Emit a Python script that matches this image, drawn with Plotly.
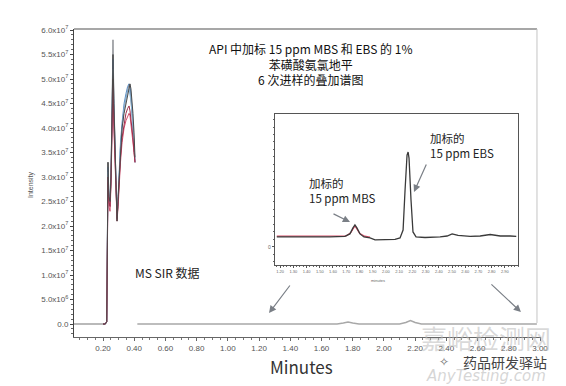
import plotly.graph_objects as go

# ---------------- data ----------------
# main chromatogram, peak region (time in minutes, intensity in units of 10^7)
peak_time = [0.200, 0.215, 0.224, 0.228, 0.232, 0.238, 0.245, 0.251, 0.258, 0.264,
             0.270, 0.277, 0.284, 0.290, 0.297, 0.303, 0.312, 0.322, 0.335, 0.347,
             0.358, 0.367, 0.373, 0.379, 0.386, 0.392, 0.399, 0.405]
inj1 = [0, 0, 0.05, 1.7, 3.3, 2.5, 2.4, 3.0, 4.5, 5.8, 4.6, 3.5, 2.6, 2.1, 2.5, 3.0, 3.6, 4.0,
        4.4, 4.6, 4.8, 4.9, 4.8, 4.6, 4.3, 4.0, 3.6, 3.3]
inj2 = [0, 0, 0.05, 1.6, 3.2, 2.6, 2.5, 3.0, 4.2, 5.4, 4.4, 3.4, 2.6, 2.2, 2.6, 3.1, 3.7, 4.1,
        4.5, 4.7, 4.85, 4.9, 4.85, 4.7, 4.4, 4.1, 3.7, 3.3]
inj3 = [0, 0, 0.05, 1.5, 3.1, 2.5, 2.4, 2.9, 4.0, 5.2, 4.2, 3.3, 2.5, 2.15, 2.5, 3.0, 3.6, 4.0,
        4.4, 4.6, 4.75, 4.8, 4.7, 4.55, 4.3, 4.0, 3.6, 3.3]
inj4 = [0, 0, 0.05, 1.4, 2.9, 2.4, 2.3, 2.8, 3.8, 4.9, 4.0, 3.2, 2.4, 2.1, 2.4, 2.8, 3.3, 3.7,
        4.0, 4.15, 4.25, 4.3, 4.25, 4.1, 3.9, 3.7, 3.5, 3.3]
inj5 = [0, 0, 0.05, 1.5, 3.0, 2.5, 2.4, 2.9, 3.9, 5.0, 4.1, 3.2, 2.5, 2.15, 2.5, 2.9, 3.4, 3.8,
        4.1, 4.3, 4.4, 4.45, 4.35, 4.2, 4.0, 3.8, 3.5, 3.3]
inj6 = [0, 0, 0.05, 1.6, 3.3, 2.6, 2.5, 3.0, 4.3, 5.5, 4.5, 3.5, 2.6, 2.1, 2.6, 3.0, 3.6, 4.0,
        4.3, 4.5, 4.7, 4.85, 4.9, 4.8, 4.6, 4.3, 3.9, 3.4]
injections = [inj1, inj2, inj3, inj4, inj5, inj6]
inj_colors = ["#8c8f94", "#5b8ec4", "#8ab4d6", "#d4506e", "#9e2f4c", "#4a4a4a"]

# main chromatogram baseline (before and after the API peak)
base_time = [0.014, 0.100, 0.200, None, 0.420, 1.000, 1.700, 1.740, 1.770, 1.800, 1.840,
             2.100, 2.140, 2.170, 2.200, 2.240, 2.980]
base_int = [0, 0, 0, None, 0, 0, 0, 0.02, 0.04, 0.02, 0, 0, 0.03, 0.07, 0.03, 0, 0]

# inset (zoomed) chromatogram, intensity in arbitrary units
inset_time = [1.175, 1.274, 1.425, 1.577, 1.690, 1.728, 1.751, 1.766, 1.781, 1.804, 1.834,
              1.880, 1.918, 1.993, 2.069, 2.107, 2.130, 2.145, 2.160, 2.168, 2.175, 2.190,
              2.205, 2.228, 2.296, 2.410, 2.463, 2.501, 2.546, 2.637, 2.713, 2.789, 2.865,
              2.940, 2.986]
inset_int = [0.67, 0.67, 0.63, 0.67, 0.70, 0.87, 1.27, 1.47, 1.27, 0.87, 0.67,
             0.60, 0.47, 0.47, 0.50, 0.60, 1.13, 3.80, 6.13, 6.33, 5.93, 3.13,
             1.00, 0.67, 0.63, 0.67, 0.73, 0.87, 0.77, 0.70, 0.73, 0.83, 0.73,
             0.73, 0.70]
inset_red_time = [1.175, 1.300, 1.450, 1.600, 1.700, 1.735, 1.766, 1.800, 1.840, 1.880]
inset_red_int = [0.72, 0.73, 0.71, 0.72, 0.74, 0.95, 1.40, 0.92, 0.72, 0.66]

y_ticks = [0, 0.5, 1, 1.5, 2, 2.5, 3, 3.5, 4, 4.5, 5, 5.5, 6]
y_ticktext = ["0.0", "5.0x10<sup>6</sup>", "1.0x10<sup>7</sup>", "1.5x10<sup>7</sup>",
              "2.0x10<sup>7</sup>", "2.5x10<sup>7</sup>", "3.0x10<sup>7</sup>",
              "3.5x10<sup>7</sup>", "4.0x10<sup>7</sup>", "4.5x10<sup>7</sup>",
              "5.0x10<sup>7</sup>", "5.5x10<sup>7</sup>", "6.0x10<sup>7</sup>"]
x_ticks = [0.2, 0.4, 0.6, 0.8, 1.0, 1.2, 1.4, 1.6, 1.8, 2.0, 2.2, 2.4, 2.6, 2.8, 3.0]
x_ticktext = ["0.20", "0.40", "0.60", "0.80", "1.00", "1.20", "1.40", "1.60", "1.80",
              "2.00", "2.20", "2.40", "2.60", "2.80", "3.00"]
inset_x_ticks = [1.2, 1.3, 1.4, 1.5, 1.6, 1.7, 1.8, 1.9, 2.0, 2.1, 2.2, 2.3, 2.4, 2.5,
                 2.6, 2.7, 2.8, 2.9]
inset_x_ticktext = ["1.20", "1.30", "1.40", "1.50", "1.60", "1.70", "1.80", "1.90", "2.00",
                    "2.10", "2.20", "2.30", "2.40", "2.50", "2.60", "2.70", "2.80", "2.90"]

title_text = "API 中加标 15 ppm MBS 和 EBS 的 1%<br>苯磺酸氨氯地平<br>6 次进样的叠加谱图"

# ---------------- figure ----------------
FONT = "Noto Sans CJK SC, sans-serif"
TICKFONT = "Liberation Sans, Arial, sans-serif"

fig = go.Figure()

fig.add_trace(go.Scatter(x=base_time, y=base_int, mode="lines",
                         line=dict(color="#a8a8a8", width=1.6),
                         showlegend=False, hoverinfo="skip"))
for vals, col in zip(injections, inj_colors):
    fig.add_trace(go.Scatter(x=peak_time, y=vals, mode="lines",
                             line=dict(color=col, width=1),
                             showlegend=False, hoverinfo="skip"))

fig.add_trace(go.Scatter(x=inset_red_time, y=inset_red_int, mode="lines",
                         line=dict(color="#d8506a", width=1.2),
                         xaxis="x2", yaxis="y2", showlegend=False, hoverinfo="skip"))
fig.add_trace(go.Scatter(x=inset_time, y=inset_int, mode="lines",
                         line=dict(color="#3a3a3a", width=1.3),
                         xaxis="x2", yaxis="y2", showlegend=False, hoverinfo="skip"))

fig.update_layout(
    width=566, height=386,
    margin=dict(l=74, r=25, t=29, b=49),
    paper_bgcolor="white", plot_bgcolor="white",
    font=dict(family=FONT, color="#222"),
    xaxis=dict(range=[0.0142, 3.0064], tickvals=x_ticks, ticktext=x_ticktext,
               showgrid=False, zeroline=False, showline=True, linecolor="#666",
               linewidth=1, ticks="outside", ticklen=3, tickcolor="#666",
               tickfont=dict(family=TICKFONT, size=8, color="#555"),
               minor=dict(dtick=0.05, ticks="outside", ticklen=2, tickcolor="#777"),
               domain=[0, 1]),
    yaxis=dict(range=[-0.2653, 6.0204], tickvals=y_ticks, ticktext=y_ticktext,
               showgrid=False, zeroline=False, showline=True, linecolor="#444",
               linewidth=1, ticks="outside", ticklen=3, tickcolor="#444",
               tickfont=dict(family=TICKFONT, size=8, color="#555"),
               minor=dict(dtick=0.1, ticks="outside", ticklen=2, tickcolor="#666")),
    xaxis2=dict(domain=[0.430, 0.951], anchor="y2", range=[1.16, 3.0],
                tickvals=inset_x_ticks, ticktext=inset_x_ticktext,
                showgrid=False, zeroline=False, showline=True, mirror=True,
                linecolor="#555", linewidth=1, ticks="outside", ticklen=2,
                tickcolor="#555", tickfont=dict(family=TICKFONT, size=4, color="#666"),
                minor=dict(dtick=0.025, ticks="outside", ticklen=1, tickcolor="#666")),
    yaxis2=dict(domain=[0.234, 0.724], anchor="x2", range=[-1.2, 8.867],
                tickvals=[0], ticktext=["0"],
                showgrid=False, zeroline=False, showline=True, mirror=True,
                linecolor="#555", linewidth=1, ticks="outside", ticklen=2,
                tickcolor="#555", tickfont=dict(family=TICKFONT, size=5, color="#666"),
                minor=dict(dtick=0.5, ticks="outside", ticklen=1, tickcolor="#666")),
)

# outer frame (top and right) of the main chart
fig.add_shape(type="line", xref="paper", yref="paper", x0=0.0, x1=0.9914, y0=1.0, y1=1.0,
              line=dict(color="#8a8a8a", width=1.5))
fig.add_shape(type="line", xref="paper", yref="paper", x0=0.9914, x1=0.9914, y0=0.0455,
              y1=1.0, line=dict(color="#c4c4c4", width=1))


def txt(text, x, y, size, color="#222", family=FONT, xanchor="center", align="center",
        **kw):
    return dict(text=text, x=x, y=y, xref="paper", yref="paper", showarrow=False,
                xanchor=xanchor, yanchor="middle", align=align,
                font=dict(family=family, size=size, color=color), **kw)


ann = []
ann.append(txt(title_text, 0.5054, 0.886, 12, "#111"))
ann.append(txt("MS SIR 数据", 0.1263, 0.211, 12))
ann[-1]["xanchor"] = "left"
ann.append(txt("Minutes", 0.488, -0.0974, 17, "#333"))
ann.append(txt("Intensity", -0.092, 0.4935, 7, "#555", family=TICKFONT, textangle=-90))
ann.append(txt("minutes", 0.652, 0.185, 4, "#666", family=TICKFONT))
ann.append(txt("加标的<br>15 ppm MBS", 0.499, 0.477, 11.5, xanchor="left", align="left"))
ann.append(txt("加标的<br>15 ppm EBS", 0.758, 0.623, 11.5, xanchor="left", align="left"))
# arrows
for hx, hy, axp, ayp in [(0.591, 0.373, -18, -9), (0.728, 0.471, 13, -29),
                         (0.4176, 0.0779, 22, -29), (0.957, 0.0812, -31, -29)]:
    ann.append(dict(text="", x=hx, y=hy, xref="paper", yref="paper", showarrow=True,
                    ax=axp, ay=ayp, arrowhead=2, arrowsize=1.2, arrowwidth=1.2,
                    arrowcolor="#7a7f86"))
# watermark texts
ann.append(txt("嘉峪检测网", 0.882, 0.0, 26, "rgba(185,185,185,0.55)",
               family="Noto Sans CJK SC"))
ann.append(txt("<i>AnyTesting.com</i>", 0.882, -0.127, 15, "rgba(200,200,200,0.75)",
               family="DejaVu Sans"))
ann.append(txt("药品研发驿站", 0.923, -0.081, 14, "#444", family="Noto Sans CJK SC"))
ann.append(txt("✧", 0.792, -0.081, 12, "#777", family="DejaVu Sans"))
fig.update_layout(annotations=ann)

fig.write_html("out.html")
